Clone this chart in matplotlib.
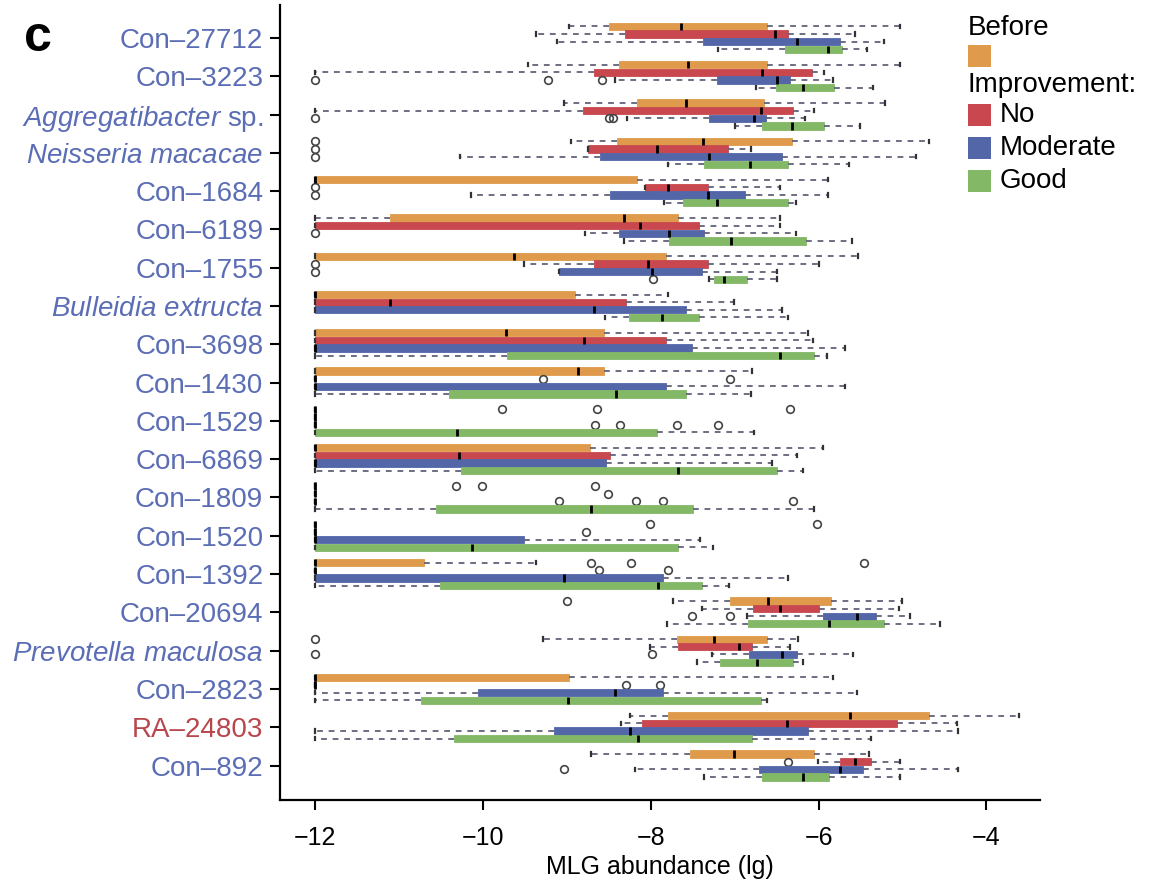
import numpy as np
import matplotlib
matplotlib.use("Agg")
import matplotlib.pyplot as plt
from matplotlib.patches import Rectangle

plt.rcParams['font.family'] = ['Liberation Sans', 'DejaVu Sans']
plt.rcParams['mathtext.fontset'] = 'custom'
plt.rcParams['mathtext.it'] = 'Liberation Sans:italic'
plt.rcParams['mathtext.rm'] = 'Liberation Sans'

categories = ["Con–27712", "Con–3223", r"$\mathit{Aggregatibacter}$ sp.",
              r"$\mathit{Neisseria\ macacae}$", "Con–1684", "Con–6189", "Con–1755",
              r"$\mathit{Bulleidia\ extructa}$", "Con–3698", "Con–1430", "Con–1529",
              "Con–6869", "Con–1809", "Con–1520", "Con–1392", "Con–20694",
              r"$\mathit{Prevotella\ maculosa}$", "Con–2823", "RA–24803", "Con–892"]
label_colors = ["#5b6db5"] * 18 + ["#b8474d", "#5b6db5"]

groups = ["Before", "No", "Moderate", "Good"]
group_colors = ["#df9a4b", "#c9484f", "#5366a8", "#82b866"]

# Before: whisker low, Q1, median, Q3, whisker high, outliers
before_lo  = [-8.98, -9.46, -9.04, -8.95, -12, -12, -12, -12, -12, -12, -12, -12, -12, -12, -12, -7.73, -9.28, -12, -8.25, -8.71]
before_q1  = [-8.50, -8.38, -8.17, -8.40, -12, -11.11, -12, -12, -12, -12, -12, -12, -12, -12, -12, -7.05, -7.69, -12, -7.79, -7.53]
before_med = [-7.64, -7.56, -7.58, -7.38, -12, -8.32, -9.63, -12, -9.72, -8.87, -12, -12, -12, -12, -12, -6.60, -7.25, -12, -5.63, -7.01]
before_q3  = [-6.62, -6.62, -6.65, -6.32, -8.17, -7.68, -7.82, -8.90, -8.56, -8.56, -12, -8.72, -12, -12, -10.70, -5.85, -6.61, -8.97, -4.68, -6.05]
before_hi  = [-5.03, -5.03, -5.21, -4.68, -5.89, -6.46, -5.53, -7.79, -6.12, -6.79, -12, -5.95, -12, -12, -9.37, -5.01, -6.24, -5.83, -3.61, -5.40]
before_out = [[], [], [], [-12], [], [], [], [], [], [], [-9.77, -8.64, -6.34], [],
              [-10.32, -10.01, -8.67], [-8.01, -6.02], [-8.71, -8.23, -5.46], [-9.00], [-12], [], [], []]

no_lo  = [-9.37, -12, -12, -8.75, -8.07, -12, -9.51, -12, -12, -12, -12, -12, -12, -12, -12, -7.39, -8.01, -12, -8.35, -6.01]
no_q1  = [-8.31, -8.68, -8.81, -8.75, -8.07, -12, -8.68, -12, -12, -12, -12, -12, -12, -12, -12, -6.78, -7.68, -12, -8.10, -5.75]
no_med = [-6.52, -6.68, -6.69, -7.93, -7.79, -8.13, -8.03, -11.11, -8.80, -12, -12, -10.29, -12, -12, -12, -6.46, -6.95, -12, -6.38, -5.57]
no_q3  = [-6.37, -6.08, -6.31, -7.08, -7.32, -7.42, -7.32, -8.30, -7.82, -12, -12, -8.49, -12, -12, -12, -5.99, -6.79, -12, -5.07, -5.37]
no_hi  = [-5.56, -5.93, -6.05, -6.80, -6.46, -6.46, -5.99, -7.01, -6.07, -12, -12, -6.26, -12, -12, -12, -5.04, -6.34, -12, -4.35, -5.03]
no_out = [[], [], [], [-12], [-12], [], [-12], [], [], [-9.28, -7.05], [], [],
          [-8.51], [-8.77], [-8.62, -7.80], [], [], [-8.29, -7.89], [], [-6.37]]

mod_lo  = [-9.12, -8.43, -8.28, -10.28, -10.14, -8.79, -9.09, -12, -12, -12, -12, -12, -12, -12, -12, -6.85, -7.27, -12, -12, -8.19]
mod_q1  = [-7.38, -7.21, -7.30, -8.61, -8.49, -8.38, -9.09, -12, -12, -12, -12, -12, -12, -12, -12, -5.95, -6.83, -10.06, -9.15, -6.71]
mod_med = [-6.26, -6.50, -6.77, -7.31, -7.32, -7.78, -7.98, -8.68, -12, -12, -12, -12, -12, -12, -9.03, -5.54, -6.44, -8.43, -8.25, -5.75]
mod_q3  = [-5.74, -6.34, -6.63, -6.44, -6.88, -7.37, -7.39, -7.58, -7.51, -7.82, -12, -8.53, -12, -9.51, -7.85, -5.32, -6.26, -7.85, -6.13, -5.47]
mod_hi  = [-5.22, -5.83, -6.16, -4.84, -5.89, -6.27, -6.49, -6.44, -5.69, -5.69, -12, -6.55, -12, -7.41, -6.36, -4.91, -5.59, -5.54, -4.34, -4.34]
mod_out = [[], [-12, -9.23, -8.58], [-12, -8.50, -8.45], [-12], [-12], [-12], [-12], [], [], [],
           [-8.67, -8.37, -7.69, -7.20], [], [-9.09, -8.18, -7.86, -6.30], [], [], [-7.51, -7.06],
           [-12, -7.98], [], [], [-9.03]]

good_lo  = [-7.20, -6.74, -6.99, -7.79, -7.84, -8.32, -7.30, -8.54, -12, -12, -12, -12, -12, -12, -12, -7.81, -7.45, -12, -12, -7.37]
good_q1  = [-6.40, -6.51, -6.68, -7.36, -7.62, -7.78, -7.25, -8.26, -9.71, -10.40, -12, -10.26, -10.56, -12, -10.51, -6.84, -7.18, -10.74, -10.34, -6.67]
good_med = [-5.89, -6.18, -6.32, -6.82, -7.21, -7.04, -7.13, -7.87, -6.46, -8.42, -10.31, -7.67, -8.71, -10.13, -7.91, -5.88, -6.73, -8.99, -8.15, -6.18]
good_q3  = [-5.72, -5.81, -5.94, -6.36, -6.37, -6.15, -6.85, -7.42, -6.05, -7.58, -7.93, -6.50, -7.50, -7.67, -7.39, -5.22, -6.31, -6.69, -6.79, -5.88]
good_hi  = [-5.42, -5.35, -5.51, -5.64, -6.27, -5.60, -6.49, -6.36, -5.90, -6.80, -6.77, -6.19, -6.06, -7.26, -7.07, -4.55, -6.18, -6.61, -5.37, -5.03]
good_out = [[], [], [], [], [], [], [-7.97], [], [], [], [], [], [], [], [], [], [], [], [], []]

xticks = [-12, -10, -8, -6, -4]

series = [
    (before_lo, before_q1, before_med, before_q3, before_hi, before_out),
    (no_lo, no_q1, no_med, no_q3, no_hi, no_out),
    (mod_lo, mod_q1, mod_med, mod_q3, mod_hi, mod_out),
    (good_lo, good_q1, good_med, good_q3, good_hi, good_out),
]
offsets = [-0.3, -0.1, 0.1, 0.3]

W, H = 1150, 883
fig = plt.figure(figsize=(W / 100, H / 100), dpi=100)
ax = fig.add_axes([280 / W, 1 - 800 / H, 760 / W, 795 / H])

n = len(categories)
for (lo, q1, med, q3, hi, out), off, col in zip(series, offsets, group_colors):
    stats = []
    for i in range(n):
        stats.append(dict(whislo=lo[i], q1=q1[i], med=med[i], q3=q3[i], whishi=hi[i],
                          fliers=np.array(out[i], dtype=float)))
    pos = [i + off for i in range(n)]
    ax.bxp(stats, positions=pos, widths=0.19, orientation='horizontal',
           patch_artist=True, manage_ticks=False, capwidths=0.09,
           boxprops=dict(facecolor=col, edgecolor=col, linewidth=0.6),
           medianprops=dict(color='black', linewidth=2.0, solid_capstyle='butt'),
           whiskerprops=dict(color='#62627a', linewidth=1.3, linestyle=(0, (3.2, 3.2))),
           capprops=dict(color='#333333', linewidth=1.6),
           flierprops=dict(marker='o', markerfacecolor='none', markeredgecolor='#444444',
                           markersize=5.5, markeredgewidth=1.2))

ax.set_xlim(-12.42, -3.36)
ax.set_ylim(19.9, -0.86)
ax.set_yticks(range(n))
ax.set_yticklabels(categories, fontsize=20)
for lab, c in zip(ax.get_yticklabels(), label_colors):
    lab.set_color(c)
ax.set_xticks(xticks)
ax.set_xticklabels([f"\u2212{abs(t)}" for t in xticks], fontsize=18)
ax.set_xlabel("MLG abundance (lg)", fontsize=18, labelpad=3)
for s in ['top', 'right']:
    ax.spines[s].set_visible(False)
for s in ['left', 'bottom']:
    ax.spines[s].set_linewidth(1.6)
ax.tick_params(axis='both', length=7, width=1.5, direction='out')
ax.tick_params(axis='y', pad=5)
ax.tick_params(axis='x', pad=12)

fig.text(24 / W, 1 - 38 / H, "c", fontsize=36, fontweight='heavy', va='center', ha='left')

# legend
def px(x, y):
    return x / W, 1 - y / H

fig.text(*px(968, 28), "Before", fontsize=20, va='center', ha='left')
fig.text(*px(968, 85), "Improvement:", fontsize=20, va='center', ha='left')
leg_items = [(56, group_colors[0], None), (115, group_colors[1], "No"),
             (148, group_colors[2], "Moderate"), (181, group_colors[3], "Good")]
for yc, col, txt in leg_items:
    x0, y0 = px(968, yc + 11)
    fig.add_artist(Rectangle((x0, y0), 23 / W, 22 / H, transform=fig.transFigure,
                             facecolor=col, edgecolor='none'))
    if txt:
        fig.text(*px(1000, yc), txt, fontsize=20, va='center', ha='left')

fig.savefig("out.png", dpi=100)
